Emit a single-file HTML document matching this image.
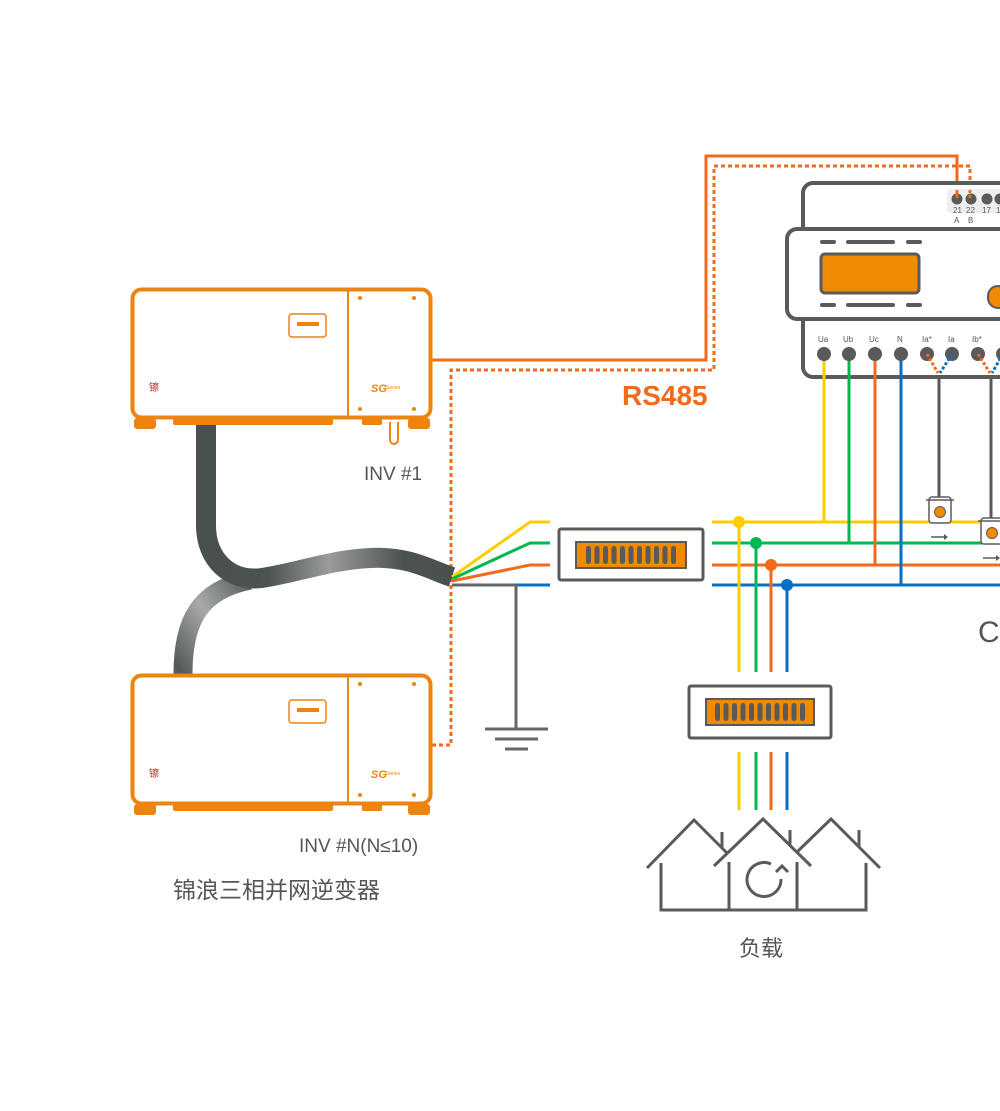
<!DOCTYPE html>
<html><head><meta charset="utf-8"><style>
html,body{margin:0;padding:0;background:#fff;}
svg{display:block;}
text{font-family:"Liberation Sans","Noto Sans CJK SC",sans-serif;fill:#555;}
</style></head><body>
<svg width="1000" height="1111" viewBox="0 0 1000 1111" xmlns="http://www.w3.org/2000/svg">
<defs>
<linearGradient id="cg" x1="0" y1="0" x2="1" y2="0">
<stop offset="0" stop-color="#4a5050"/><stop offset="0.25" stop-color="#4d5252"/><stop offset="0.5" stop-color="#9a9c9c"/><stop offset="0.8" stop-color="#4d5252"/><stop offset="1" stop-color="#4a5050"/>
</linearGradient>
<linearGradient id="cg2" x1="0" y1="1" x2="1" y2="0">
<stop offset="0" stop-color="#555a5a"/><stop offset="0.5" stop-color="#a8aaaa"/><stop offset="1" stop-color="#555a5a"/>
</linearGradient>
<g id="inv">
<rect x="134" y="418" width="22" height="11" rx="3" fill="#ee8410"/>
<rect x="173" y="418" width="160" height="7" rx="2" fill="#ee8410"/>
<rect x="362" y="418" width="20" height="7" rx="2" fill="#ee8410"/>
<rect x="408" y="418" width="22" height="11" rx="3" fill="#ee8410"/>
<rect x="132.5" y="289.5" width="298" height="128" rx="9" fill="#fff" stroke="#ee8410" stroke-width="4"/>
<line x1="348" y1="290" x2="348" y2="417" stroke="#ee8410" stroke-width="2"/>
<rect x="289" y="314" width="37" height="23" rx="3" fill="#fff" stroke="#ee8410" stroke-width="1.5"/>
<rect x="297" y="322" width="22" height="4" fill="#ee8410"/>
<circle cx="360" cy="298" r="2" fill="#ee8410"/><circle cx="414" cy="298" r="2" fill="#ee8410"/>
<circle cx="360" cy="409" r="2" fill="#ee8410"/><circle cx="414" cy="409" r="2" fill="#ee8410"/>
<text x="371" y="392" font-size="11" font-style="italic" font-weight="bold" style="fill:#ee8410">SG</text>
<text x="386" y="389" font-size="5" style="fill:#ee8410">Series</text>
<text x="149" y="391" font-size="10" style="fill:#c22">镲</text>
</g>
</defs>

<!-- RS485 lines -->
<polyline points="432,360 706,360 706,156 957,156 957,198" fill="none" stroke="#f26a1b" stroke-width="3"/>
<polyline points="432,745 451,745 451,370 714,370 714,166 970,166 970,198" fill="none" stroke="#f26a1b" stroke-width="3" stroke-dasharray="4,3"/>
<text x="622" y="405" font-size="28" font-weight="bold" style="fill:#f26a1b">RS485</text>

<!-- cables -->
<path d="M183,674 C183,620 200,590 250,580" fill="none" stroke="url(#cg2)" stroke-width="19"/>
<path d="M206,425 L206,525 C206,560 230,582 262,578 C300,572 330,560 370,558 C410,556 430,570 452,577" fill="none" stroke="url(#cg)" stroke-width="20"/>

<!-- inverters -->
<use href="#inv"/>
<path d="M390,422 v18 a4,4 0 0 0 8,0 v-18" fill="none" stroke="#ee8410" stroke-width="2"/>
<use href="#inv" transform="translate(0,386)"/>
<text x="364" y="480" font-size="19">INV #1</text>
<text x="299" y="852" font-size="19">INV #N(N≤10)</text>
<text x="173" y="898" font-size="23">锦浪三相并网逆变器</text>

<!-- fan-out wires -->
<polyline points="452,577 530,522 550,522" fill="none" stroke="#ffcc00" stroke-width="3"/>
<polyline points="452,579 530,543 550,543" fill="none" stroke="#00b84f" stroke-width="3"/>
<polyline points="452,581 530,565 550,565" fill="none" stroke="#f26a1b" stroke-width="3"/>
<line x1="452" y1="585" x2="518" y2="585" stroke="#666" stroke-width="3"/>
<line x1="516" y1="585" x2="550" y2="585" stroke="#0a6fc2" stroke-width="3"/>
<line x1="516" y1="585" x2="516" y2="730" stroke="#666" stroke-width="3"/>
<line x1="485" y1="729" x2="548" y2="729" stroke="#666" stroke-width="3"/>
<line x1="495" y1="739" x2="538" y2="739" stroke="#666" stroke-width="3"/>
<line x1="505" y1="749" x2="528" y2="749" stroke="#666" stroke-width="3"/>

<!-- box 1 -->
<rect x="559" y="529" width="144" height="51" rx="2" fill="#fff" stroke="#5a5a5a" stroke-width="3"/>
<rect x="576" y="542" width="110" height="26" fill="#f08a00" stroke="#5a5a5a" stroke-width="2"/>
<g fill="#5a5a5a">
<rect x="586" y="546" width="5" height="18" rx="2.5"/><rect x="594.5" y="546" width="5" height="18" rx="2.5"/><rect x="603" y="546" width="5" height="18" rx="2.5"/><rect x="611.5" y="546" width="5" height="18" rx="2.5"/><rect x="620" y="546" width="5" height="18" rx="2.5"/><rect x="628.5" y="546" width="5" height="18" rx="2.5"/><rect x="637" y="546" width="5" height="18" rx="2.5"/><rect x="645.5" y="546" width="5" height="18" rx="2.5"/><rect x="654" y="546" width="5" height="18" rx="2.5"/><rect x="662.5" y="546" width="5" height="18" rx="2.5"/><rect x="671" y="546" width="5" height="18" rx="2.5"/>
</g>

<!-- right bus -->
<line x1="712" y1="522" x2="1000" y2="522" stroke="#ffcc00" stroke-width="3"/>
<line x1="712" y1="543" x2="1000" y2="543" stroke="#00b84f" stroke-width="3"/>
<line x1="712" y1="565" x2="1000" y2="565" stroke="#f26a1b" stroke-width="3"/>
<line x1="712" y1="585" x2="1000" y2="585" stroke="#0a6fc2" stroke-width="3"/>
<line x1="739" y1="522" x2="739" y2="672" stroke="#ffcc00" stroke-width="3"/>
<line x1="756" y1="543" x2="756" y2="672" stroke="#00b84f" stroke-width="3"/>
<line x1="771" y1="565" x2="771" y2="672" stroke="#f26a1b" stroke-width="3"/>
<line x1="787" y1="585" x2="787" y2="672" stroke="#0a6fc2" stroke-width="3"/>
<circle cx="739" cy="522" r="6" fill="#ffcc00"/><circle cx="756" cy="543" r="6" fill="#00b84f"/>
<circle cx="771" cy="565" r="6" fill="#f26a1b"/><circle cx="787" cy="585" r="6" fill="#0a6fc2"/>

<!-- box 2 -->
<rect x="689" y="686" width="142" height="52" rx="2" fill="#fff" stroke="#5a5a5a" stroke-width="3"/>
<rect x="706" y="699" width="108" height="26" fill="#f08a00" stroke="#5a5a5a" stroke-width="2"/>
<g fill="#5a5a5a">
<rect x="715" y="703" width="5" height="18" rx="2.5"/><rect x="723.5" y="703" width="5" height="18" rx="2.5"/><rect x="732" y="703" width="5" height="18" rx="2.5"/><rect x="740.5" y="703" width="5" height="18" rx="2.5"/><rect x="749" y="703" width="5" height="18" rx="2.5"/><rect x="757.5" y="703" width="5" height="18" rx="2.5"/><rect x="766" y="703" width="5" height="18" rx="2.5"/><rect x="774.5" y="703" width="5" height="18" rx="2.5"/><rect x="783" y="703" width="5" height="18" rx="2.5"/><rect x="791.5" y="703" width="5" height="18" rx="2.5"/><rect x="800" y="703" width="5" height="18" rx="2.5"/>
</g>
<line x1="739" y1="752" x2="739" y2="810" stroke="#ffcc00" stroke-width="3"/>
<line x1="756" y1="752" x2="756" y2="810" stroke="#00b84f" stroke-width="3"/>
<line x1="771" y1="752" x2="771" y2="810" stroke="#f26a1b" stroke-width="3"/>
<line x1="787" y1="752" x2="787" y2="810" stroke="#0a6fc2" stroke-width="3"/>

<!-- houses -->
<g fill="none" stroke="#5a5a5a" stroke-width="3">
<polyline points="647,868 694,820 728,854"/>
<line x1="722" y1="832" x2="722" y2="848"/>
<polyline points="714,866 763,819 811,866"/>
<line x1="790" y1="830" x2="790" y2="846"/>
<polyline points="797,852 831,819 880,868"/>
<line x1="859" y1="830" x2="859" y2="847"/>
<polyline points="661,863 661,910 866,910 866,863"/>
<line x1="729" y1="862" x2="729" y2="910"/><line x1="797" y1="862" x2="797" y2="910"/>
<path d="M781,879 A17,17 0 1 1 771,864"/>
<polyline points="776,872 782,866 788,872"/>
</g>
<text x="739" y="956" font-size="22">负载</text>

<!-- meter -->
<g stroke="#5a5a5a" stroke-width="4" fill="#fff">
<rect x="803" y="183" width="220" height="194" rx="10"/>
<rect x="787" y="229" width="236" height="90" rx="10"/>
</g>
<rect x="947" y="189" width="60" height="24" rx="4" fill="#eee"/>
<g fill="#5a5a5a">
<circle cx="957" cy="199" r="5.5"/><circle cx="971" cy="199" r="5.5"/><circle cx="987" cy="199" r="5.5"/><circle cx="1000" cy="199" r="5.5"/>
</g>
<line x1="957" y1="190" x2="957" y2="198" stroke="#f26a1b" stroke-width="3"/>
<line x1="970" y1="190" x2="970" y2="198" stroke="#f26a1b" stroke-width="3" stroke-dasharray="3,2"/>
<g font-size="8"><text x="953" y="213">21</text><text x="966" y="213">22</text><text x="982" y="213">17</text><text x="996" y="213">1</text>
<text x="954" y="223">A</text><text x="968" y="223">B</text></g>
<g stroke="#5a5a5a" stroke-width="4" stroke-linecap="round">
<line x1="822" y1="242" x2="834" y2="242"/><line x1="848" y1="242" x2="893" y2="242"/><line x1="908" y1="242" x2="920" y2="242"/>
<line x1="822" y1="305" x2="834" y2="305"/><line x1="848" y1="305" x2="893" y2="305"/><line x1="908" y1="305" x2="920" y2="305"/>
</g>
<rect x="821" y="254" width="98" height="39" rx="4" fill="#f08a00" stroke="#5a5a5a" stroke-width="3"/>
<rect x="988" y="286" width="20" height="22" rx="10" fill="#f08a00" stroke="#5a5a5a" stroke-width="2"/>
<g font-size="8"><text x="818" y="342">Ua</text><text x="843" y="342">Ub</text><text x="869" y="342">Uc</text><text x="897" y="342">N</text><text x="922" y="342">Ia*</text><text x="948" y="342">Ia</text><text x="972" y="342">Ib*</text></g>

<!-- meter verticals -->
<line x1="824" y1="352" x2="824" y2="522" stroke="#ffcc00" stroke-width="3"/>
<line x1="849" y1="352" x2="849" y2="543" stroke="#00b84f" stroke-width="3"/>
<line x1="875" y1="352" x2="875" y2="565" stroke="#f26a1b" stroke-width="3"/>
<line x1="901" y1="352" x2="901" y2="585" stroke="#0a6fc2" stroke-width="3"/>
<g fill="#5a5a5a">
<circle cx="824" cy="354" r="7"/><circle cx="849" cy="354" r="7"/><circle cx="875" cy="354" r="7"/><circle cx="901" cy="354" r="7"/><circle cx="927" cy="354" r="7"/><circle cx="952" cy="354" r="7"/><circle cx="978" cy="354" r="7"/><circle cx="1003" cy="354" r="7"/>
</g>
<polyline points="927,354 938,373" stroke="#f26a1b" stroke-width="3" stroke-dasharray="3,2" fill="none"/>
<polyline points="952,354 940,373" stroke="#0a6fc2" stroke-width="3" stroke-dasharray="3,2" fill="none"/>
<polyline points="978,354 990,373" stroke="#f26a1b" stroke-width="3" stroke-dasharray="3,2" fill="none"/>
<polyline points="1003,354 992,373" stroke="#0a6fc2" stroke-width="3" stroke-dasharray="3,2" fill="none"/>
<line x1="939" y1="378" x2="939" y2="497" stroke="#5a5a5a" stroke-width="3"/>
<line x1="991" y1="378" x2="991" y2="518" stroke="#5a5a5a" stroke-width="3"/>
<g fill="#fff" stroke="#5a5a5a" stroke-width="1.5">
<rect x="929" y="497" width="22" height="26" rx="3"/><line x1="926" y1="500" x2="954" y2="500"/>
<rect x="981" y="518" width="22" height="26" rx="3"/><line x1="978" y1="521" x2="1006" y2="521"/>
</g>
<circle cx="940" cy="512" r="5.5" fill="#f08a00" stroke="#5a5a5a"/>
<circle cx="992" cy="533" r="5.5" fill="#f08a00" stroke="#5a5a5a"/>
<g stroke="#5a5a5a" stroke-width="1.5"><line x1="931" y1="537" x2="945" y2="537"/><line x1="983" y1="558" x2="997" y2="558"/></g>
<path d="M944,534 l4,3 l-4,3z M996,555 l4,3 l-4,3z" fill="#5a5a5a"/>
<text x="978" y="642" font-size="30">CT</text>
</svg>
</body></html>
